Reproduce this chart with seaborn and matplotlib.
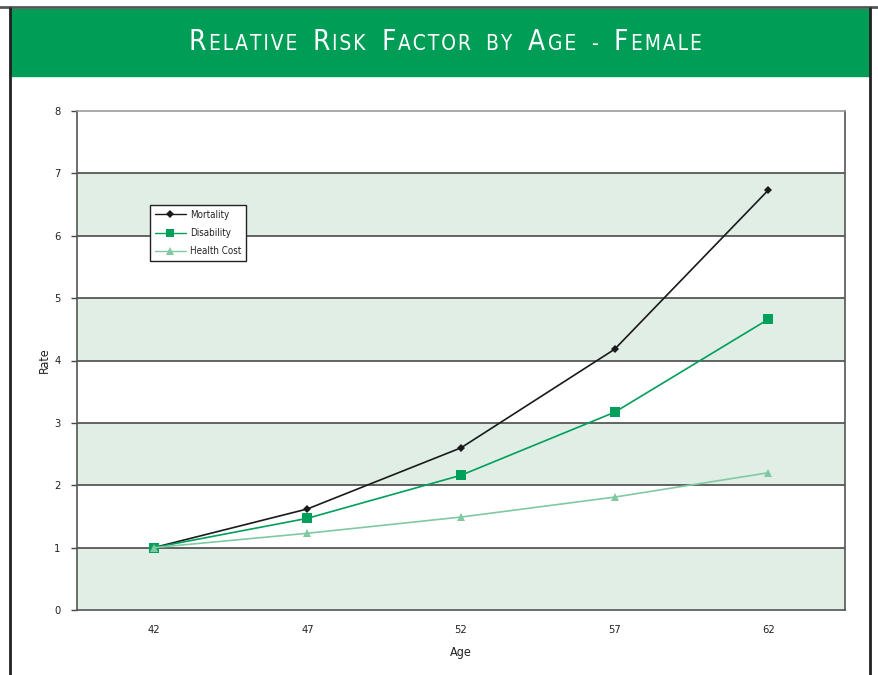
import matplotlib
matplotlib.use("Agg")
import matplotlib.pyplot as plt
import seaborn as sns
import pandas as pd
from matplotlib.offsetbox import TextArea, HPacker, AnchoredOffsetbox
from matplotlib.lines import Line2D

ages = ["42", "47", "52", "57", "62"]
mortality = [1.0, 1.62, 2.60, 4.18, 6.73]
disability = [1.0, 1.47, 2.16, 3.17, 4.66]
health_cost = [1.0, 1.23, 1.49, 1.81, 2.20]
series_names = ["Mortality", "Disability", "Health Cost"]
title_text = "Relative Risk Factor by Age - Female"

sns.set_theme(style="white")
plt.rcParams["font.family"] = ["DejaVu Sans"]
plt.rcParams["font.stretch"] = "condensed"
TXT = "#222222"

rows = []
for name, vals in zip(series_names, [mortality, disability, health_cost]):
    for i, (a, v) in enumerate(zip(ages, vals)):
        rows.append({"idx": i, "Age": a, "Rate": v, "Series": name})
df = pd.DataFrame(rows)

fig = plt.figure(figsize=(8.79, 6.75), dpi=100)
W, H = 879, 675

# frame and banner
fig.add_artist(plt.Line2D([0, 1], [1 - 7 / H, 1 - 7 / H], color="#555555", lw=2, transform=fig.transFigure))
fig.add_artist(plt.Line2D([10 / W, 10 / W], [0, 1 - 8 / H], color="#222222", lw=2, transform=fig.transFigure))
fig.add_artist(plt.Line2D([870 / W, 870 / W], [0, 1 - 8 / H], color="#222222", lw=2, transform=fig.transFigure))
fig.add_artist(plt.Rectangle((10 / W, 1 - 76 / H), 860 / W, 67 / H, color="#009d57",
                             transform=fig.transFigure, zorder=0))

# small-caps title
orig = title_text.split(" ")
parts = []
tp_big = dict(color="white", fontsize=20, fontstretch="condensed", fontweight="normal")
tp_small = dict(color="white", fontsize=15, fontstretch="condensed", fontweight="normal")
for w in orig:
    if w == "-":
        parts.append(TextArea("-", textprops=tp_small))
        continue
    sub = []
    if w[0].isupper():
        sub.append(TextArea(w[0], textprops=tp_big))
        rest = w[1:]
    else:
        rest = w
    if rest:
        sub.append(TextArea("\u200a".join(rest.upper()), textprops=tp_small))
    parts.append(HPacker(children=sub, align="baseline", pad=0, sep=2))
box = HPacker(children=parts, align="baseline", pad=0, sep=11)
ab = AnchoredOffsetbox(loc="center", child=box, frameon=False,
                       bbox_to_anchor=(445 / W, 1 - 42 / H), bbox_transform=fig.transFigure, pad=0)
fig.add_artist(ab)

ax = fig.add_axes([77 / W, (H - 610) / H, (845 - 77) / W, (610 - 111) / H])
ax.set_xlim(-0.5, 4.5)
ax.set_ylim(0, 8)

for k in range(8):
    if k % 2 == 0:
        ax.axhspan(k, k + 1, color="#e0eee6", zorder=0, lw=0)
for k in range(1, 8):
    ax.axhline(k, color="#4a4a4a", lw=1.2, zorder=1)

palette = {"Mortality": "#1a1a1a", "Disability": "#00a05a", "Health Cost": "#80c9a2"}
markers = {"Mortality": "D", "Disability": "s", "Health Cost": "^"}
sizes = {"Mortality": 4, "Disability": 7, "Health Cost": 6}
for name in series_names:
    sub = df[df["Series"] == name]
    sns.lineplot(data=sub, x="idx", y="Rate", ax=ax, color=palette[name], marker=markers[name],
                 markersize=sizes[name], markeredgewidth=0, lw=1.2, zorder=3, legend=False)

ax.set_xticks(range(len(ages)))
ax.set_xticklabels(ages)
ax.set_xticks([i - 0.5 for i in range(len(ages) + 1)], minor=True)
ax.tick_params(axis="x", which="major", length=0, pad=11, labelsize=8, labelcolor=TXT)
ax.tick_params(axis="x", which="minor", length=4, direction="out", color="#444444", width=1)
ax.set_yticks(range(9))
ax.tick_params(axis="y", which="major", length=4, direction="out", color="#444444", width=1,
               labelsize=8, pad=8, labelcolor=TXT)
ax.tick_params(bottom=True, left=True)
for s in ax.spines.values():
    s.set_color("#555555")
    s.set_linewidth(1.2)
ax.spines["top"].set_color("#999999")
ax.set_xlabel("Age", fontsize=9, labelpad=8, color=TXT)
ax.set_ylabel("Rate", fontsize=9, labelpad=2, color=TXT)

handles = [Line2D([], [], color=palette[n], marker=markers[n], markersize=sizes[n] * 0.9,
                  markeredgewidth=0, lw=1) for n in series_names]
leg = ax.legend(handles, series_names, loc="upper left", bbox_to_anchor=(73 / 768, 1 - 94 / 499),
                fontsize=7, frameon=True, fancybox=False, edgecolor="#222222", framealpha=1,
                handlelength=3.2, borderpad=0.5, labelspacing=0.85, handletextpad=0.4,
                borderaxespad=0)
leg.get_frame().set_linewidth(1)
for t in leg.get_texts():
    t.set_color(TXT)

fig.savefig("out.png", dpi=100)
